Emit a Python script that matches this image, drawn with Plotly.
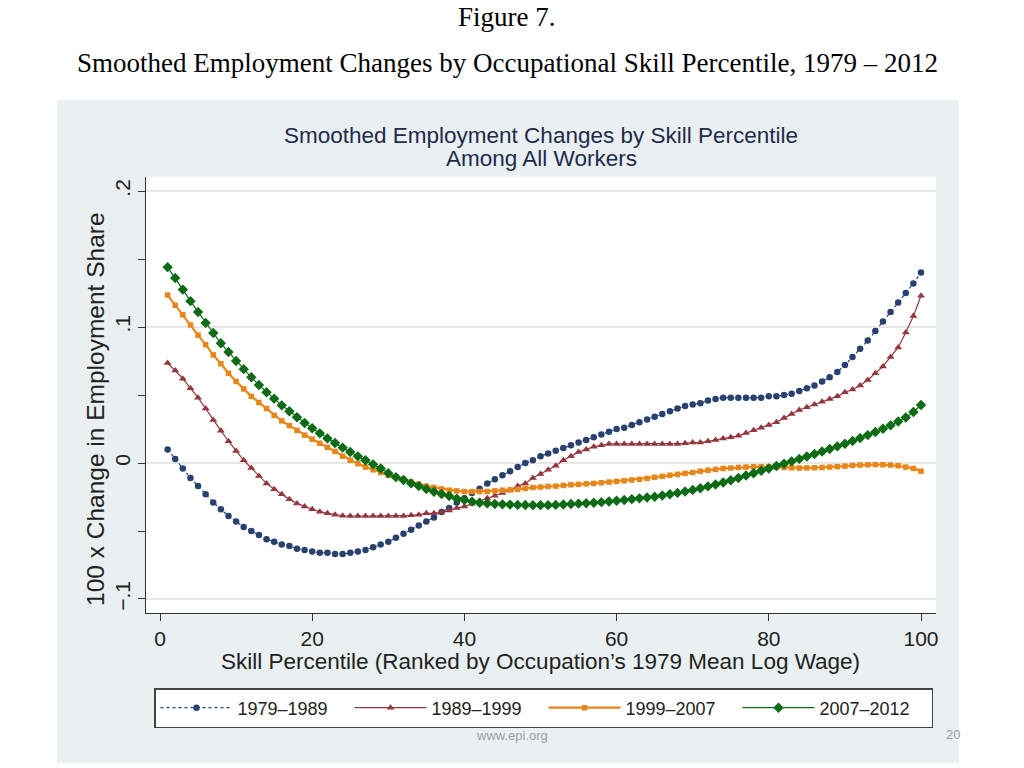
import plotly.graph_objects as go

percentile = list(range(1, 101))

s_1979_1989 = [
    0.010, 0.003, -0.004, -0.011, -0.017, -0.023, -0.029, -0.034, -0.039, -0.043,
    -0.047, -0.050, -0.053, -0.056, -0.058, -0.060, -0.061, -0.063, -0.064, -0.065,
    -0.066, -0.066, -0.067, -0.067, -0.066, -0.065, -0.064, -0.062, -0.060, -0.058,
    -0.055, -0.052, -0.049, -0.046, -0.043, -0.040, -0.036, -0.033, -0.029, -0.026,
    -0.022, -0.019, -0.015, -0.012, -0.009, -0.006, -0.003, 0.000, 0.002, 0.005,
    0.007, 0.009, 0.011, 0.013, 0.015, 0.017, 0.019, 0.021, 0.023, 0.025,
    0.026, 0.028, 0.030, 0.032, 0.034, 0.036, 0.038, 0.040, 0.042, 0.043,
    0.044, 0.046, 0.047, 0.048, 0.048, 0.048, 0.048, 0.048, 0.048, 0.049,
    0.049, 0.050, 0.051, 0.053, 0.055, 0.057, 0.060, 0.063, 0.067, 0.072,
    0.078, 0.084, 0.090, 0.097, 0.104, 0.111, 0.118, 0.125, 0.132, 0.140,
]

s_1989_1999 = [
    0.0735, 0.068, 0.062, 0.055, 0.048, 0.040, 0.0316, 0.0238, 0.016, 0.0088,
    0.002, -0.0037, -0.0096, -0.015, -0.0193, -0.023, -0.0267, -0.0297, -0.032, -0.034,
    -0.0358, -0.037, -0.038, -0.0388, -0.039, -0.039, -0.039, -0.039, -0.039, -0.039,
    -0.039, -0.039, -0.0385, -0.038, -0.037, -0.037, -0.036, -0.035, -0.033, -0.032,
    -0.030, -0.028, -0.026, -0.024, -0.022, -0.020, -0.017, -0.015, -0.011, -0.008,
    -0.005, -0.002, 0.002, 0.005, 0.008, 0.010, 0.012, 0.013, 0.014, 0.014,
    0.014, 0.014, 0.014, 0.014, 0.014, 0.014, 0.014, 0.014, 0.0145, 0.015,
    0.015, 0.016, 0.017, 0.018, 0.019, 0.020, 0.022, 0.024, 0.026, 0.028,
    0.030, 0.033, 0.036, 0.039, 0.041, 0.043, 0.045, 0.047, 0.049, 0.052,
    0.054, 0.057, 0.061, 0.066, 0.071, 0.078, 0.085, 0.096, 0.108, 0.123,
]

s_1999_2007 = [
    0.1235, 0.116, 0.109, 0.1015, 0.094, 0.087, 0.0795, 0.073, 0.066, 0.060,
    0.0545, 0.049, 0.0445, 0.040, 0.035, 0.031, 0.0275, 0.024, 0.0205, 0.0175,
    0.0145, 0.0115, 0.0085, 0.005, 0.002, -0.0005, -0.003, -0.005, -0.007, -0.009,
    -0.0105, -0.012, -0.014, -0.0155, -0.017, -0.018, -0.019, -0.020, -0.0205, -0.021,
    -0.021, -0.021, -0.021, -0.0205, -0.020, -0.0198, -0.0193, -0.0187, -0.018, -0.0177,
    -0.0173, -0.017, -0.0165, -0.016, -0.0157, -0.0153, -0.015, -0.0145, -0.014, -0.0135,
    -0.013, -0.0125, -0.012, -0.0113, -0.0105, -0.0098, -0.009, -0.0083, -0.0076, -0.007,
    -0.006, -0.0053, -0.0047, -0.004, -0.0037, -0.0033, -0.003, -0.0027, -0.0027, -0.0028,
    -0.003, -0.0032, -0.0035, -0.0037, -0.0036, -0.0035, -0.0033, -0.003, -0.0027, -0.0023,
    -0.0018, -0.0015, -0.0013, -0.0012, -0.0013, -0.0015, -0.002, -0.003, -0.004, -0.006,
]

s_2007_2012 = [
    0.144, 0.136, 0.1275, 0.119, 0.111, 0.103, 0.0956, 0.088, 0.0816, 0.075,
    0.069, 0.063, 0.0574, 0.052, 0.0473, 0.0424, 0.038, 0.0336, 0.0294, 0.0255,
    0.0218, 0.0181, 0.0147, 0.0113, 0.0081, 0.0049, 0.002, -0.001, -0.004, -0.0075,
    -0.0104, -0.0125, -0.015, -0.017, -0.0192, -0.0211, -0.0228, -0.0243, -0.0262, -0.0272,
    -0.0284, -0.0292, -0.0297, -0.0301, -0.0304, -0.0306, -0.0308, -0.0309, -0.031, -0.031,
    -0.031, -0.0308, -0.0305, -0.0302, -0.0299, -0.0296, -0.0292, -0.0288, -0.0283, -0.0278,
    -0.0272, -0.0266, -0.026, -0.0254, -0.0248, -0.0239, -0.023, -0.022, -0.021, -0.0198,
    -0.0186, -0.0172, -0.0158, -0.0143, -0.0127, -0.011, -0.0092, -0.0075, -0.0057, -0.004,
    -0.0022, -0.0005, 0.0012, 0.003, 0.0048, 0.0066, 0.0084, 0.0103, 0.0122, 0.0142,
    0.0162, 0.0183, 0.0205, 0.0228, 0.0252, 0.0277, 0.0305, 0.0335, 0.0375, 0.0426,
]

series_names = ["1979\u20131989", "1989\u20131999", "1999\u20132007", "2007\u20132012"]
x_ticks = [0, 20, 40, 60, 80, 100]
y_ticks = [-0.1, 0, 0.1, 0.2]
y_tick_labels = ["\u2212.1", "0", ".1", ".2"]

FONT = "Liberation Sans"
SERIF = "Liberation Serif"

fig = go.Figure()

styles = [
    dict(line=dict(color="#28416e", width=1.2, dash="dot"),
         marker=dict(symbol="circle", size=6.5, color="#28416e")),
    dict(line=dict(color="#93363d", width=1.2),
         marker=dict(symbol="triangle-up", size=7, color="#93363d")),
    dict(line=dict(color="#e8861a", width=2.2),
         marker=dict(symbol="square", size=5.5, color="#e8861a")),
    dict(line=dict(color="#0c6b14", width=1.2),
         marker=dict(symbol="diamond", size=8, color="#0c6b14")),
]

for name, ys, st in zip(series_names, [s_1979_1989, s_1989_1999, s_1999_2007, s_2007_2012], styles):
    fig.add_trace(go.Scatter(x=percentile, y=ys, mode="lines+markers", name=name,
                             line=st["line"], marker=st["marker"]))

W, H = 1024, 768
L, R, T, B = 146, 936, 177, 613  # plot area in page pixels
pw, ph = R - L, B - T

def px(xp):
    return (xp - L) / pw

def py(yp):
    return (B - yp) / ph

shapes = [
    dict(type="rect", xref="paper", yref="paper", x0=px(57), x1=px(959), y0=py(763), y1=py(100),
         fillcolor="#eaf0f1", line=dict(width=0), layer="below"),
    dict(type="rect", xref="paper", yref="paper", x0=0, x1=1, y0=0, y1=1,
         fillcolor="#ffffff", line=dict(width=0), layer="below"),
    dict(type="line", xref="paper", yref="y", x0=0, x1=1, y0=0, y1=0,
         line=dict(color="#c8102e", width=2), layer="between"),
]

def ann(text, x, y, family, size, color, angle=0):
    return dict(text=text, x=px(x), y=py(y), xref="paper", yref="paper", showarrow=False,
                textangle=angle, font=dict(family=family, size=size, color=color),
                xanchor="center", yanchor="middle")

annotations = [
    ann("Figure 7.", 507, 17, SERIF, 27, "#000000"),
    ann("Smoothed Employment Changes by Occupational Skill Percentile, 1979 \u2013 2012", 507, 63, SERIF, 27, "#000000"),
    ann("Smoothed Employment Changes by Skill Percentile", 541, 135, FONT, 22.5, "#1f2b4d"),
    ann("Among All Workers", 541, 158, FONT, 22.5, "#1f2b4d"),
    ann("www.epi.org", 512, 735, FONT, 13, "#a0a0a0"),
    ann("20", 953, 734, FONT, 13, "#a0a0a0"),
    ann("Skill Percentile (Ranked by Occupation\u2019s 1979 Mean Log Wage)", 540, 661, FONT, 22.5, "#222222"),
    ann("100 x Change in Employment Share", 95, 409, FONT, 24.5, "#222222", angle=-90),
]

fig.update_layout(
    width=W, height=H,
    margin=dict(l=L, r=W - R, t=T, b=H - B, pad=0),
    paper_bgcolor="#ffffff",
    plot_bgcolor="#ffffff",
    font=dict(family=FONT, size=21, color="#222222"),
    shapes=shapes,
    annotations=annotations,
    showlegend=True,
    legend=dict(orientation="h", x=px(154), y=py(688), xanchor="left", yanchor="top",
                bgcolor="#ffffff", bordercolor="#444444", borderwidth=1.5,
                font=dict(family=FONT, size=18, color="#222222"),
                itemwidth=72, entrywidth=107, entrywidthmode="pixels",
                itemclick=False),
)

fig.update_xaxes(
    range=[-1.84, 101.97], tickvals=x_ticks, ticks="outside", ticklen=7, tickcolor="#333333",
    showline=True, linecolor="#333333", linewidth=1.2, showgrid=False, zeroline=False,
    tickfont=dict(family=FONT, size=21, color="#222222"),
)

fig.update_yaxes(
    range=[-0.1103, 0.2103], tickvals=y_ticks, ticktext=y_tick_labels, tickangle=-90,
    ticks="outside", ticklen=7, tickcolor="#333333",
    minor=dict(tickvals=[-0.05, 0.05, 0.15], ticks="outside", ticklen=7, tickcolor="#333333", showgrid=False),
    showline=True, linecolor="#333333", linewidth=1.2,
    showgrid=True, gridcolor="#e6e6e6", gridwidth=1.5, zeroline=False,
    tickfont=dict(family=FONT, size=21, color="#222222"),
)

fig.write_html("out.html", config={"displayModeBar": False},
               post_script="document.body.style.margin='0px';")
